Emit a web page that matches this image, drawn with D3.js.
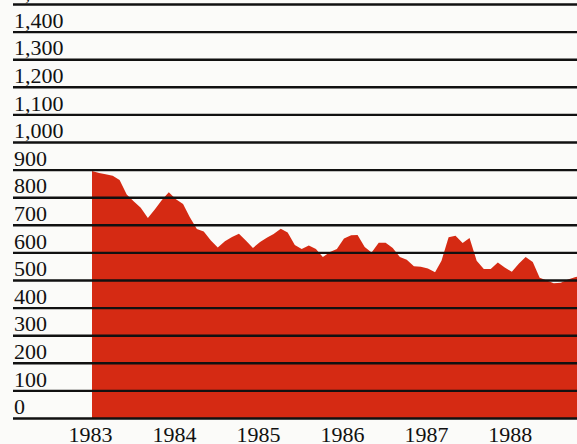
<!DOCTYPE html>
<html>
<head>
	<meta charset="utf-8">
	<script src="https://cdn.jsdelivr.net/npm/d3@7"></script>
</head>
<style type="text/css">
	body { margin:0; background-color:#fbfbf9; overflow:hidden; }
	.axis text { font-family:"Liberation Serif", serif; font-size:22px; fill:#111; }
</style>
<body>
</body>
</html>
<script type="text/javascript">
	// monthly values, Jan 1983 onwards
	var startMonth = new Date(1983, 0, 1);
	var values = [895, 888, 883, 878, 862, 810, 785, 762, 725, 755, 790, 818,
				  793, 775, 728, 685, 676, 643, 618, 640, 656, 668, 642, 616,
				  638, 654, 667, 686, 672, 627, 612, 625, 612, 583, 601, 612,
				  650, 662, 663, 620, 600, 635, 635, 616, 583, 573, 550, 548,
				  542, 528, 570, 655, 660, 634, 652, 570, 540, 540, 563, 545,
				  530, 560, 583, 565, 508, 498, 488, 490, 502, 510, 515];
	var yearTicks = [1983, 1984, 1985, 1986, 1987, 1988];
	var yTicks = [0, 100, 200, 300, 400, 500, 600, 700, 800, 900, 1000, 1100, 1200, 1300, 1400, 1500];

	var width = 577, height = 444;
	var left = 13;
	var data = values.map(function(v, i){ return { date: d3.timeMonth.offset(startMonth, i), value: v }; });

	var svg = d3.select("body").append("svg").attr("width", width).attr("height", height);

	var x = d3.scaleTime().domain([new Date(1983, 0, 1), new Date(1989, 0, 1)]).range([92, 596]);
	var y = d3.scaleLinear().domain([0, 1500]).range([418, 4]);

	var area = d3.area()
		.x(function(d){ return x(d.date); })
		.y0(y(0))
		.y1(function(d){ return y(d.value); });

	svg.append("path").datum(data).attr("d", area).attr("fill", "#d52a13");

	// gridlines + labels sitting above each line
	var ya = svg.append("g").attr("class", "axis").attr("transform", "translate(" + left + ",0)")
		.call(d3.axisLeft(y).tickValues(yTicks).tickSize(-(width - left)).tickFormat(d3.format(",")));
	ya.select(".domain").remove();
	ya.selectAll(".tick line").attr("stroke", "#111").attr("stroke-width", 2.4);
	ya.selectAll(".tick text").attr("x", 1).attr("dy", "-0.2em").attr("text-anchor", "start");

	var xa = svg.append("g").attr("class", "axis").attr("transform", "translate(0," + y(0) + ")")
		.call(d3.axisBottom(x).tickValues(yearTicks.map(function(yr){ return new Date(yr, 0, 1); }))
			.tickSize(0).tickPadding(8).tickFormat(d3.timeFormat("%Y")));
	xa.select(".domain").remove();
	xa.selectAll(".tick text").attr("x", -2);
</script>
